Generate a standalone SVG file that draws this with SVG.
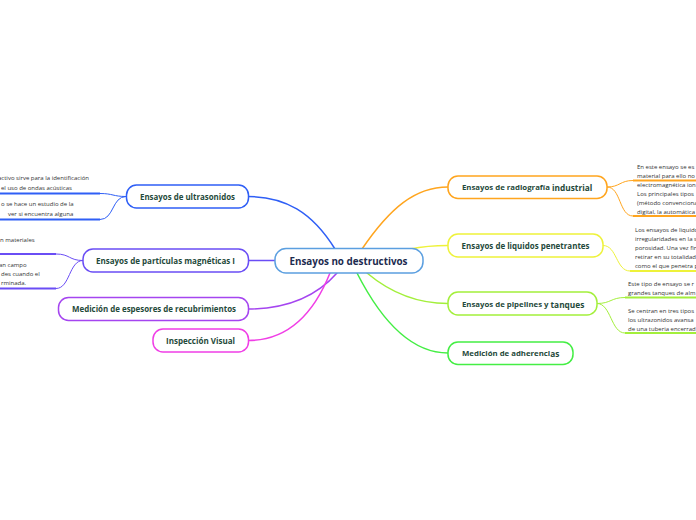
<svg xmlns="http://www.w3.org/2000/svg" width="696" height="520" viewBox="0 0 696 520">
<style>
.node{fill:#fff;stroke-width:1.5}
.lbl{font-family:"Open Sans","Noto Sans",sans-serif;font-weight:bold;font-size:8.5px;fill:#1f4a3b;text-anchor:middle}
.lbs{font-family:"Open Sans","Noto Sans",sans-serif;font-weight:bold;font-size:7.8px;fill:#1f4a3b;text-anchor:start}
.leaf{font-family:"Open Sans","Noto Sans",sans-serif;font-size:6px;fill:#333}
.c{fill:none;stroke-width:1.5;stroke-linecap:round}
.u{fill:none;stroke-width:2}
.t{fill:none;stroke-width:1}
</style>
<rect width="696" height="520" fill="#fff"/>
<g id="connectors">
<path class="c" stroke="#2f5ff6" d="M335,249 C312,212 285,196.5 248,196.5"/>
<path class="c" stroke="#6a4df5" d="M276,260.5 L248,260.5"/>
<path class="c" stroke="#a545f0" d="M337,273 C315,298 285,309 248,309"/>
<path class="c" stroke="#f03ee6" d="M330,273 C312,318 285,340.5 248,340.5"/>
<path class="c" stroke="#ffa51e" d="M362,249 C390,208 415,187 448,187"/>
<path class="c" stroke="#eef23a" d="M410,249 C425,246 432,245.5 448,245.5"/>
<path class="c" stroke="#a3ef3b" d="M367,273 C392,294 420,303.5 448,303.5"/>
<path class="c" stroke="#44ee44" d="M357,273 C385,328 415,353 448,353"/>
<path class="t" stroke="#2f5ff6" d="M126,196.5 C113,196.5 113,193.5 100,193.5"/>
<path class="t" stroke="#2f5ff6" d="M126,196.5 C112,196.5 114,219.5 100,219.5"/>
<path class="u" stroke="#2f5ff6" d="M0,193.5 H100 M0,219.5 H100"/>
<path class="t" stroke="#6a4df5" d="M83,260.5 C69,260.5 70,254 56,254"/>
<path class="t" stroke="#6a4df5" d="M83,260.5 C69,260.5 70,288.5 56,288.5"/>
<path class="u" stroke="#6a4df5" d="M0,254 H56 M0,288.5 H56"/>
<path class="t" stroke="#ffa51e" d="M607,187 C620,187 620,180.5 633,180.5"/>
<path class="t" stroke="#ffa51e" d="M607,187 C621,187 619,216 633,216"/>
<path class="u" stroke="#ffa51e" d="M633,180.5 H696 M633,216 H696"/>
<path class="t" stroke="#eef23a" d="M603,245.5 C617,245.5 616,271 630,271"/>
<path class="u" stroke="#eef23a" d="M630,271 H696"/>
<path class="t" stroke="#a3ef3b" d="M597,303.5 C611,303.5 611,297.5 625,297.5"/>
<path class="t" stroke="#a3ef3b" d="M597,303.5 C611,303.5 611,333 625,333"/>
<path class="u" stroke="#a3ef3b" d="M625,297.5 H696 M625,333 H696"/>
</g>
<g id="center">
<rect class="node" x="275" y="248.5" width="148" height="24.5" rx="11" stroke="#5b9fe0"/>
<text x="348.5" y="264.5" font-family="Open Sans,Noto Sans,sans-serif" font-weight="bold" font-size="10" fill="#1c2b4f" text-anchor="middle" textLength="118" lengthAdjust="spacingAndGlyphs">Ensayos no destructivos</text>
</g>
<g id="ultrasonidos">
<rect class="node" x="126.5" y="185" width="122" height="23" rx="10" stroke="#2f5ff6"/>
<text class="lbl" x="187.5" y="199.5" textLength="95" lengthAdjust="spacingAndGlyphs">Ensayos de ultrasonidos</text>
<text class="leaf" x="-2" y="180" textLength="91" lengthAdjust="spacingAndGlyphs">activo sirve para la identificación</text>
<text class="leaf" x="1" y="190">el uso de ondas acústicas</text>
<text class="leaf" x="1" y="206">o se hace un estudio de la</text>
<text class="leaf" x="8" y="215.5">ver si encuentra alguna</text>
</g>
<g id="particulas">
<rect class="node" x="83" y="249" width="165.5" height="23" rx="10" stroke="#6a4df5"/>
<text class="lbl" x="165.5" y="263.5" textLength="139" lengthAdjust="spacingAndGlyphs">Ensayos de partículas magnéticas I</text>
<text class="leaf" x="0" y="242">n materiales</text>
<text class="leaf" x="-1" y="266.5">an campo</text>
<text class="leaf" x="1" y="275.5">des cuando el</text>
<text class="leaf" x="1" y="284.5">rminada.</text>
</g>
<g id="espesores">
<rect class="node" x="58.5" y="297.5" width="190" height="23" rx="10" stroke="#a545f0"/>
<text class="lbl" x="154" y="312" textLength="164" lengthAdjust="spacingAndGlyphs">Medición de espesores de recubrimientos</text>
</g>
<g id="inspeccion">
<rect class="node" x="153" y="329" width="95.5" height="23" rx="10" stroke="#f03ee6"/>
<text class="lbl" x="200.5" y="343.5" textLength="69" lengthAdjust="spacingAndGlyphs">Inspección Visual</text>
</g>
<g id="radiografia">
<rect class="node" x="448" y="176" width="159" height="22.5" rx="10" stroke="#ffa51e"/>
<text class="lbs" x="462" y="189.5"><tspan>Ensayos de radiografía </tspan><tspan dy="1.2" font-size="8.3">industrial</tspan></text>
<text class="leaf" x="637" y="168.5">En este ensayo se es</text>
<text class="leaf" x="637" y="177.5">material para ello no</text>
<text class="leaf" x="637" y="187">electromagnética ion</text>
<text class="leaf" x="637" y="196">Los principales tipos</text>
<text class="leaf" x="637" y="205">(método convenciona</text>
<text class="leaf" x="637" y="214">digital, la automática</text>
</g>
<g id="liquidos">
<rect class="node" x="448" y="234" width="155" height="23" rx="10" stroke="#eef23a"/>
<text class="lbl" x="525.5" y="248.5" textLength="128" lengthAdjust="spacingAndGlyphs">Ensayos de liquidos penetrantes</text>
<text class="leaf" x="635" y="232">Los ensayos de liquido</text>
<text class="leaf" x="635" y="241">irregularidades en la s</text>
<text class="leaf" x="635" y="250">porosidad. Una vez fin</text>
<text class="leaf" x="635" y="259">retirar en su totalidad</text>
<text class="leaf" x="635" y="268">como el que penetra p</text>
</g>
<g id="pipelines">
<rect class="node" x="448" y="292" width="149" height="23" rx="10" stroke="#a3ef3b"/>
<text class="lbs" x="462" y="306.5"><tspan>Ensayos de pipelines y </tspan><tspan dy="1" font-size="8.3">tanques</tspan></text>
<text class="leaf" x="628" y="286">Este tipo de ensayo se r</text>
<text class="leaf" x="628" y="295">grandes tanques de alm</text>
<text class="leaf" x="628" y="313">Se centran en tres tipos</text>
<text class="leaf" x="628" y="322">los ultrazonidos avansa</text>
<text class="leaf" x="628" y="330.5">de una tuberia encerrad</text>
</g>
<g id="adherencia">
<rect class="node" x="448" y="342" width="125" height="22.5" rx="10" stroke="#44ee44"/>
<text class="lbs" x="462" y="356"><tspan>Medición de adherenci</tspan><tspan dy="1" font-size="8.3">as</tspan></text>
</g>
</svg>
